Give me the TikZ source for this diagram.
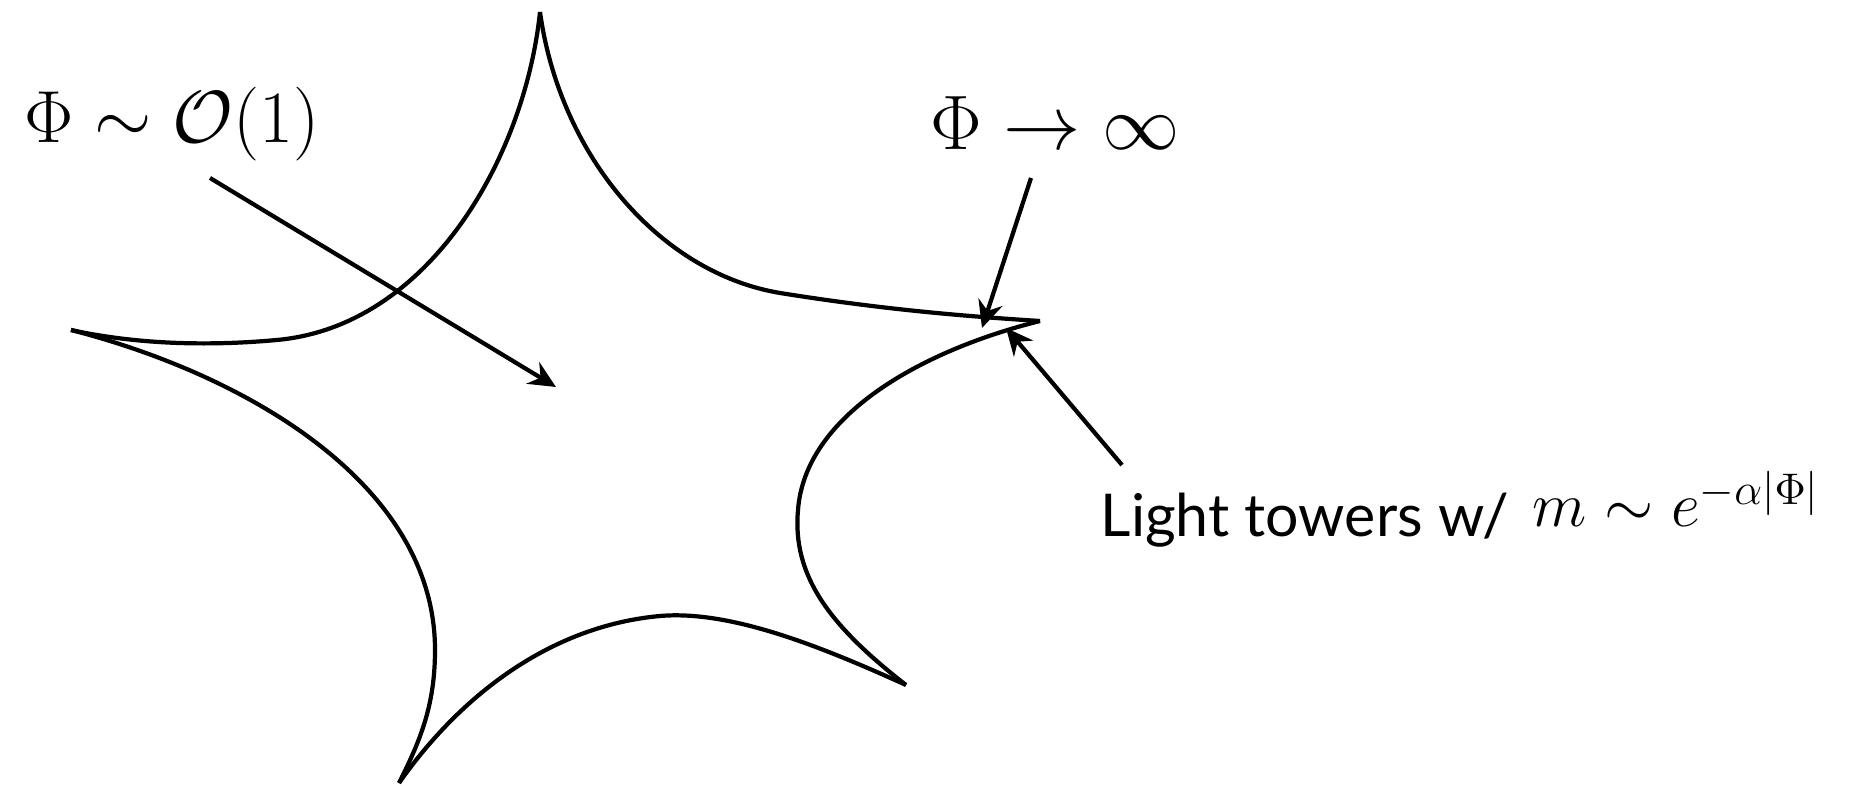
\RequirePackage{fix-cm}
\documentclass[tikz,border=0pt]{standalone}
\usepackage{amsmath}
\usepackage{amssymb}
\usepackage{fontspec}
\newfontfamily\gillish{Lato}
\usepackage{tikz}
\usetikzlibrary{arrows.meta}

\tikzset{
	bordo/.style={line width=1.2pt, line join=round},
	freccia/.style={line width=1.2pt, -{Stealth[length=2.7mm,width=2.5mm,inset=0.9mm]}},
	etichetta/.style={inner sep=0pt, anchor=base}
}

\begin{document}
\begin{tikzpicture}
		\useasboundingbox (0,0) rectangle (18.62,7.86); % area del disegno
		
		% Cuspidi della regione
		\coordinate (top) at (5.40,7.74); % cuspide in alto
		\coordinate (left) at (0.71,4.56); % cuspide a sinistra
		\coordinate (bottom) at (3.99,0.03); % cuspide in basso
		\coordinate (lowright) at (9.06,1.01); % cuspide in basso a destra
		\coordinate (right) at (10.40,4.65); % cuspide a destra
		
		% Bordo della regione
		\draw[bordo] (top) .. controls (5.25,6.3) and (4.3,4.6) .. (2.77,4.46) .. controls (2.0,4.39) and (1.3,4.43) .. (left);
		\draw[bordo] (top) .. controls (5.6,6.3) and (6.6,5.13) .. (7.8,4.93) .. controls (8.8,4.77) and (9.6,4.7) .. (right);
		\draw[bordo] (left) .. controls (2.5,4.1) and (4.35,3.0) .. (4.35,1.36) .. controls (4.35,0.8) and (4.2,0.45) .. (bottom);
		\draw[bordo] (bottom) .. controls (4.6,0.9) and (5.5,1.6) .. (6.6,1.70) .. controls (7.3,1.76) and (8.2,1.4) .. (lowright);
		\draw[bordo] (lowright) .. controls (8.3,1.6) and (7.92,2.1) .. (7.98,2.76) .. controls (8.05,3.7) and (9.2,4.35) .. (right);
		
		% Etichette
		\node[etichetta] (orig) at (1.72,6.43) {\fontsize{21}{25}\selectfont $\Phi\sim\mathcal{O}(1)$}; % interno
		\node[etichetta] (inf) at (10.55,6.36) {\fontsize{22}{26}\selectfont $\Phi\to\infty$}; % limite
		\node[etichetta, anchor=base west] (light) at (11.00,2.49) {\fontsize{16.8}{20}\selectfont\makebox[3.98cm][l]{\gillish Light towers w/}\hspace{0.34cm}\raisebox{0.1cm}{\fontsize{18}{22}\selectfont$m\sim e^{-\alpha|\Phi|}$}}; % torri
		
		% Estremi delle frecce
		\coordinate (o-from) at (2.10,6.08);
		\coordinate (o-to) at (5.56,3.99);
		\coordinate (i-from) at (10.31,6.08);
		\coordinate (i-to) at (9.82,4.58);
		\coordinate (l-from) at (11.22,3.21);
		\coordinate (l-to) at (10.06,4.58);
		
		% Frecce
		\draw[freccia] (o-from) -- (o-to);
		\draw[freccia] (i-from) -- (i-to);
		\draw[freccia] (l-from) -- (l-to);
	\end{tikzpicture}
\end{document}
